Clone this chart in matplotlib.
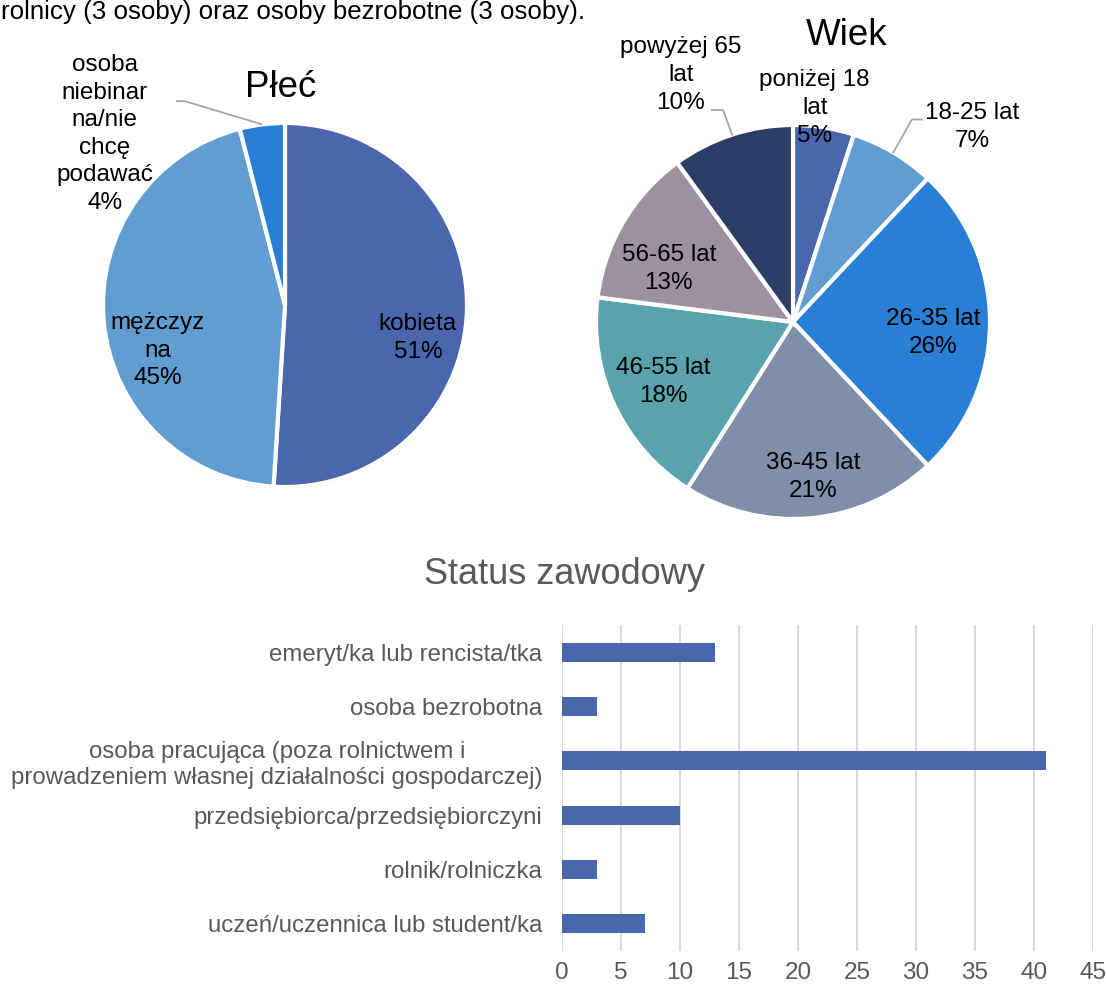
import numpy as np
import matplotlib
matplotlib.use("Agg")
import matplotlib.pyplot as plt

plt.rcParams['font.family'] = ['Liberation Sans', 'DejaVu Sans']

# Data
gender_labels = ["kobieta", "mężczyzna", "osoba niebinarna/nie chcę podawać"]
gender_text = ["kobieta", "mężczyz\nna", "osoba\nniebinar\nna/nie\nchcę\npodawać"]
gender_pct = [51, 45, 4]

age_labels = ["poniżej 18 lat", "18-25 lat", "26-35 lat", "36-45 lat",
              "46-55 lat", "56-65 lat", "powyżej 65 lat"]
age_text = ["poniżej 18\nlat", "18-25 lat", "26-35 lat", "36-45 lat",
            "46-55 lat", "56-65 lat", "powyżej 65\nlat"]
age_pct = [5, 7, 26, 21, 18, 13, 10]

status_labels = ["emeryt/ka lub rencista/tka",
                 "osoba bezrobotna",
                 "osoba pracująca (poza rolnictwem i\nprowadzeniem własnej działalności gospodarczej)",
                 "przedsiębiorca/przedsiębiorczyni",
                 "rolnik/rolniczka",
                 "uczeń/uczennica lub student/ka"]
status_counts = [13, 3, 41, 10, 3, 7]

# Colours
gender_colors = ["#4A66AC", "#629DD1", "#297FD5"]
age_colors = ["#4A66AC", "#629DD1", "#297FD5", "#7F8FA9",
              "#5AA2AE", "#9D90A0", "#2C3D66"]
bar_color = "#4A66AC"
grey_text = "#595959"
leader_color = "#A6A6A6"

W, H = 1106, 989
fig = plt.figure(figsize=(W / 100, H / 100), dpi=100)


def px_rect(left, top, w, h):
    return [left / W, 1 - (top + h) / H, w / W, h / H]


def edge_point(wedge):
    ang = np.deg2rad((wedge.theta1 + wedge.theta2) / 2)
    return np.cos(ang), np.sin(ang)


label_fs = 17.5
line_sp = 1.33

# Text line at the top of the page (cut off by the crop, as in the source)
fig.text(585 / W, 1 - 19 / H, "rolnicy (3 osoby) oraz osoby bezrobotne (3 osoby).",
         ha='right', va='baseline', fontsize=18.6, color='black')

# --- Płeć ---
r1 = 182
ax1 = fig.add_axes(px_rect(285 - r1, 305 - r1, 2 * r1, 2 * r1))
w1, _ = ax1.pie(gender_pct, colors=gender_colors, startangle=90, counterclock=False,
                wedgeprops=dict(edgecolor='white', linewidth=3))
ax1.set_xlim(-1, 1)
ax1.set_ylim(-1, 1)
ax1.set_aspect('equal')
ax1.axis('off')
g_pos = [(0.73, -0.18), (-0.70, -0.25), (-0.99, 0.94)]
for txt, pct, (x, y) in zip(gender_text, gender_pct, g_pos):
    ax1.text(x, y, f"{txt}\n{pct}%", ha='center', va='center',
             fontsize=label_fs, linespacing=line_sp, color='black')
ex, ey = edge_point(w1[2])
ax1.plot([-0.60, -0.55, ex], [1.12, 1.12, ey], color=leader_color, lw=1.3,
         clip_on=False, solid_capstyle='butt')
fig.text(281 / W, 1 - 97 / H, "Płeć", ha='center', va='baseline', fontsize=26.5)

# --- Wiek ---
r2 = 197
ax2 = fig.add_axes(px_rect(793 - r2, 322 - r2, 2 * r2, 2 * r2))
w2, _ = ax2.pie(age_pct, colors=age_colors, startangle=90, counterclock=False,
                wedgeprops=dict(edgecolor='white', linewidth=3))
ax2.set_xlim(-1, 1)
ax2.set_ylim(-1, 1)
ax2.set_aspect('equal')
ax2.axis('off')
a_pos = [(0.11, 1.086), (0.91, 0.99), (0.71, -0.056), (0.10, -0.787),
         (-0.66, -0.305), (-0.63, 0.27), (-0.57, 1.254)]
for txt, pct, (x, y) in zip(age_text, age_pct, a_pos):
    ax2.text(x, y, f"{txt}\n{pct}%", ha='center', va='center',
             fontsize=label_fs, linespacing=line_sp, color='black')
ex, ey = edge_point(w2[1])
ax2.plot([0.655, 0.604, ex], [1.028, 1.028, ey], color=leader_color, lw=1.3,
         clip_on=False)
ex, ey = edge_point(w2[6])
ax2.plot([-0.411, -0.355, ex], [1.076, 1.076, ey], color=leader_color, lw=1.3,
         clip_on=False)
fig.text(847 / W, 1 - 45 / H, "Wiek", ha='center', va='baseline', fontsize=26.5)

# --- Status zawodowy ---
ax3 = fig.add_axes(px_rect(562, 625, 531, 326))
ypos = np.arange(len(status_labels))
ax3.barh(ypos, status_counts, height=0.35, color=bar_color, zorder=3)
ax3.set_ylim(len(status_labels) - 0.5, -0.5)
ax3.set_xlim(0, 45)
ax3.set_xticks(np.arange(0, 46, 5))
ax3.set_yticks(ypos)
ax3.set_yticklabels(status_labels)
for lab in ax3.get_yticklabels():
    lab.set_multialignment('center')
    lab.set_linespacing(1.2)
ax3.tick_params(axis='y', length=0, pad=14, labelsize=17.3, labelcolor=grey_text)
ax3.tick_params(axis='x', length=0, pad=8, labelsize=17.5, labelcolor=grey_text)
ax3.grid(axis='x', color='#D9D9D9', linewidth=1.5, zorder=0)
for s in ax3.spines.values():
    s.set_visible(False)
fig.text(564 / W, 1 - 584 / H, "Status zawodowy", ha='center', va='baseline',
         fontsize=26, color=grey_text)

fig.savefig("out.png", dpi=100)
